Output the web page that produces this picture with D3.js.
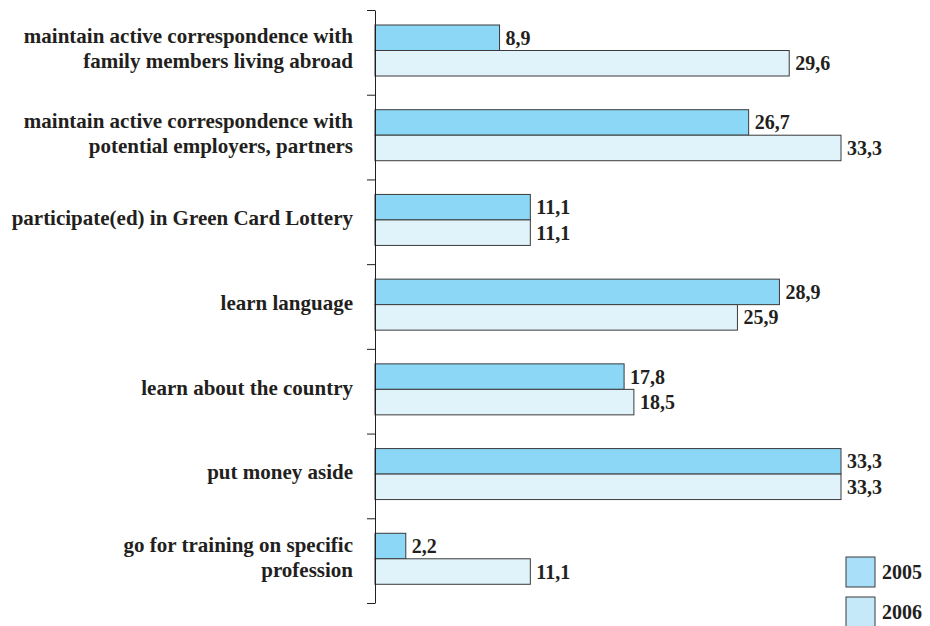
<!DOCTYPE html>
<html>
<head>
<meta charset="utf-8">
<script src="https://cdn.jsdelivr.net/npm/d3@7"></script>
<style>
  body { margin: 0; background: #fff; }
  svg text { font-family: 'Liberation Serif', 'Times New Roman', serif; font-weight: bold; fill: #231f20; }
</style>
</head>
<body>
<script>
// categories and series
var categories = [
  ["maintain active correspondence with", "family members living abroad"],
  ["maintain active correspondence with", "potential employers, partners"],
  ["participate(ed) in Green Card Lottery"],
  ["learn language"],
  ["learn about the country"],
  ["put money aside"],
  ["go for training on specific", "profession"]
];
var years = ["2005", "2006"];
var values2005 = [8.9, 26.7, 11.1, 28.9, 17.8, 33.3, 2.2];
var values2006 = [29.6, 33.3, 11.1, 25.9, 18.5, 33.3, 11.1];

var barFill = {"2005": "#8dd7f6", "2006": "#e0f3fb"};
var legendFill = {"2005": "#aadff9", "2006": "#c6e9f9"};

var width = 930, height = 626;
var x0 = 375, plotTop = 10, plotBottom = 603;

var svg = d3.select("body").append("svg")
    .attr("width", width)
    .attr("height", height);

var data = categories.map(function(c, i) {
    return {label: c, v: [values2005[i], values2006[i]]};
});

var xScale = d3.scaleLinear().domain([0, 33.3]).range([x0, 841]);
var yScale = d3.scaleLinear().domain([0, categories.length]).range([plotTop, plotBottom]);
var yBand = d3.scaleBand().domain(d3.range(categories.length)).range([plotTop, plotBottom]);
var yInner = d3.scaleBand().domain([0, 1]).range([15, 66]);

// axis with ticks between categories
var yAxis = d3.axisLeft(yScale)
    .tickValues(d3.range(categories.length + 1))
    .tickFormat("")
    .tickSize(8)
    .tickSizeOuter(0);

var groups = svg.selectAll(".cat")
    .data(data)
    .enter().append("g")
    .attr("class", "cat")
    .attr("transform", function(d, i) { return "translate(0," + yBand(i) + ")"; });

groups.selectAll("rect")
    .data(function(d) { return d.v; })
    .enter().append("rect")
    .attr("x", x0)
    .attr("y", function(d, j) { return yInner(j); })
    .attr("width", function(d) { return xScale(d) - x0; })
    .attr("height", yInner.bandwidth())
    .attr("fill", function(d, j) { return barFill[years[j]]; })
    .attr("stroke", "#3a3a3a")
    .attr("stroke-width", 1);

groups.selectAll(".val")
    .data(function(d) { return d.v; })
    .enter().append("text")
    .attr("class", "val")
    .attr("x", function(d) { return xScale(d) + 6; })
    .attr("y", function(d, j) { return yInner(j) + yInner.bandwidth() / 2; })
    .attr("dy", "0.35em")
    .style("font-size", "20px")
    .text(function(d) { return d.toFixed(1).replace(".", ","); });

// category labels, right aligned next to the axis
var labels = groups.append("text")
    .attr("text-anchor", "end")
    .style("font-size", "21px")
    .attr("transform", function(d) {
        var n = d.label.length;
        return "translate(353," + (yInner(1) - (n - 1) * 12.5 - 2) + ")";
    });

labels.selectAll("tspan")
    .data(function(d) { return d.label; })
    .enter().append("tspan")
    .attr("x", 0)
    .attr("y", function(d, k) { return k * 25; })
    .attr("dy", "0.35em")
    .text(function(d) { return d; });

svg.append("g")
    .attr("class", "y axis")
    .attr("transform", "translate(" + x0 + ",0)")
    .call(yAxis)
    .call(function(g) {
        g.select(".domain").attr("stroke", "#231f20");
        g.selectAll(".tick line").attr("stroke", "#231f20");
    });

// legend
var legend = svg.selectAll(".legend")
    .data(years)
    .enter().append("g")
    .attr("class", "legend")
    .attr("transform", function(d, i) { return "translate(846," + (557 + i * 40) + ")"; });

legend.append("rect")
    .attr("width", 29)
    .attr("height", 30)
    .attr("fill", function(d) { return legendFill[d]; })
    .attr("stroke", "#3a3a3a");

legend.append("text")
    .attr("x", 36)
    .attr("y", 15)
    .attr("dy", "0.35em")
    .style("font-size", "20px")
    .text(function(d) { return d; });
</script>
</body>
</html>
